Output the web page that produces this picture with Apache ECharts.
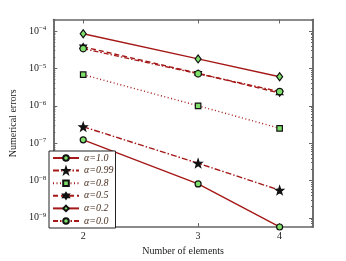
<!DOCTYPE html>
<html><head><meta charset="utf-8">
<script src="https://cdn.jsdelivr.net/npm/echarts@6/dist/echarts.min.js"></script>
<style>html,body{margin:0;padding:0;background:#fff}#c{width:346px;height:261px}</style>
</head><body><div id="c"></div>
<script>
const elements = [2, 3, 4];
const xTicks = [2, 3, 4];
const yMajor = [1e-9, 1e-8, 1e-7, 1e-6, 1e-5, 1e-4];
const a10 = [1.23e-7, 8.1e-9, 5.7e-10];
const a099 = [2.75e-7, 2.9e-8, 5.5e-9];
const a08 = [6.8e-6, 1.0e-6, 2.5e-7];
const a05 = [3.8e-5, 7.4e-6, 2.2e-6];
const a02 = [8.5e-5, 1.8e-5, 6.0e-6];
const a00 = [3.4e-5, 7.2e-6, 2.4e-6];
const names = ['α=1.0', 'α=0.99', 'α=0.8', 'α=0.5', 'α=0.2', 'α=0.0'];

const yMinor = [];
for (let e = -10; e <= -4; e++) for (let m = 2; m <= 9; m++) yMinor.push(m * Math.pow(10, e));

const RED = '#a51818', GREEN = '#7ee06a';
const STAR = 'path://M0,-10 L2.35,-3.24 9.51,-3.09 3.8,1.24 5.88,8.09 0,4 -5.88,8.09 -3.8,1.24 -9.51,-3.09 -2.35,-3.24Z';
const HEX = 'path://M0,-10 L2.887,-5 8.66,-5 5.774,0 8.66,5 2.887,5 0,10 -2.887,5 -8.66,5 -5.774,0 -8.66,-5 -2.887,-5Z';
const FONT = 'Liberation Serif';

function mk(name, vals, dash, symbol, size, fill) {
  return {
    name, type: 'line', data: elements.map((x, i) => [x, vals[i]]),
    symbol, symbolSize: size, showSymbol: true,
    lineStyle: { color: RED, width: 1.4, type: dash },
    itemStyle: { color: fill, borderColor: '#111', borderWidth: 1.2 },
    z: 3
  };
}
const YMIN = 5.66e-10, YMAX = 2.04e-4, XMIN = 1.8, XMAX = 4.5;
const axisLine = { show: true, lineStyle: { color: '#666', width: 1.5 } };
function yAx(pos, labels, ticks, len) {
  return {
    type: 'log', logBase: 10, min: YMIN, max: YMAX, position: pos,
    axisLine, splitLine: { show: false },
    axisTick: { show: true, inside: true, length: len, customValues: ticks, lineStyle: { color: '#666', width: 1 } },
    axisLabel: labels ? {
      show: true, customValues: yMajor, margin: 7, fontFamily: FONT, color: '#222',
      formatter: v => '{b|10}{s|−' + Math.round(-Math.log10(v)) + '}',
      rich: { b: { fontSize: 10, fontFamily: FONT, color: '#222', lineHeight: 12 },
              s: { fontSize: 7, fontFamily: FONT, color: '#222', verticalAlign: 'top', lineHeight: 7 } }
    } : { show: false },
    name: labels ? 'Numerical errors' : '', nameLocation: 'middle', nameGap: 25,
    nameTextStyle: { fontFamily: FONT, fontSize: 10, color: '#222' }
  };
}
function xAx(pos, labels) {
  return {
    type: 'log', logBase: 10, min: XMIN, max: XMAX, position: pos,
    axisLine, splitLine: { show: false },
    axisTick: { show: true, inside: true, length: 4, customValues: xTicks, lineStyle: { color: '#666', width: 1 } },
    axisLabel: labels ? { show: true, customValues: xTicks, margin: 4, fontFamily: FONT, fontSize: 10, color: '#222' } : { show: false },
    name: labels ? 'Number of elements' : '', nameLocation: 'middle', nameGap: 13,
    nameTextStyle: { fontFamily: FONT, fontSize: 10, color: '#222' }
  };
}
const chart = echarts.init(document.getElementById('c'), null, { renderer: 'canvas' });
chart.setOption({
  animation: false,
  grid: { left: 45, top: 19.5, right: 33, bottom: 30.3, containLabel: false },
  xAxis: [xAx('bottom', true), xAx('top', false)],
  yAxis: [yAx('left', true, yMajor, 4), yAx('left', false, yMinor, 2), yAx('right', false, yMajor, 4), yAx('right', false, yMinor, 2)],
  legend: {
    orient: 'vertical', left: 49, top: 151, data: names,
    itemWidth: 26, itemHeight: 7, itemGap: 2.6,
    padding: [2, 2, 2, 3], borderColor: '#222', borderWidth: 1, backgroundColor: '#fff',
    textStyle: { fontFamily: FONT, fontStyle: 'italic', fontSize: 10, color: '#4a3020', lineHeight: 10 }
  },
  series: [
    mk(names[0], a10, 'solid', 'circle', 6, GREEN),
    mk(names[1], a099, [6, 2, 1.5, 2], STAR, 8, '#111'),
    mk(names[2], a08, [1, 2.5], 'rect', 5.5, GREEN),
    mk(names[3], a05, [5, 3], HEX, 6.5, '#111'),
    mk(names[4], a02, 'solid', 'diamond', [6, 8], GREEN),
    mk(names[5], a00, [5, 2, 1.5, 2], 'circle', 6.5, GREEN)
  ]
});
</script></body></html>
